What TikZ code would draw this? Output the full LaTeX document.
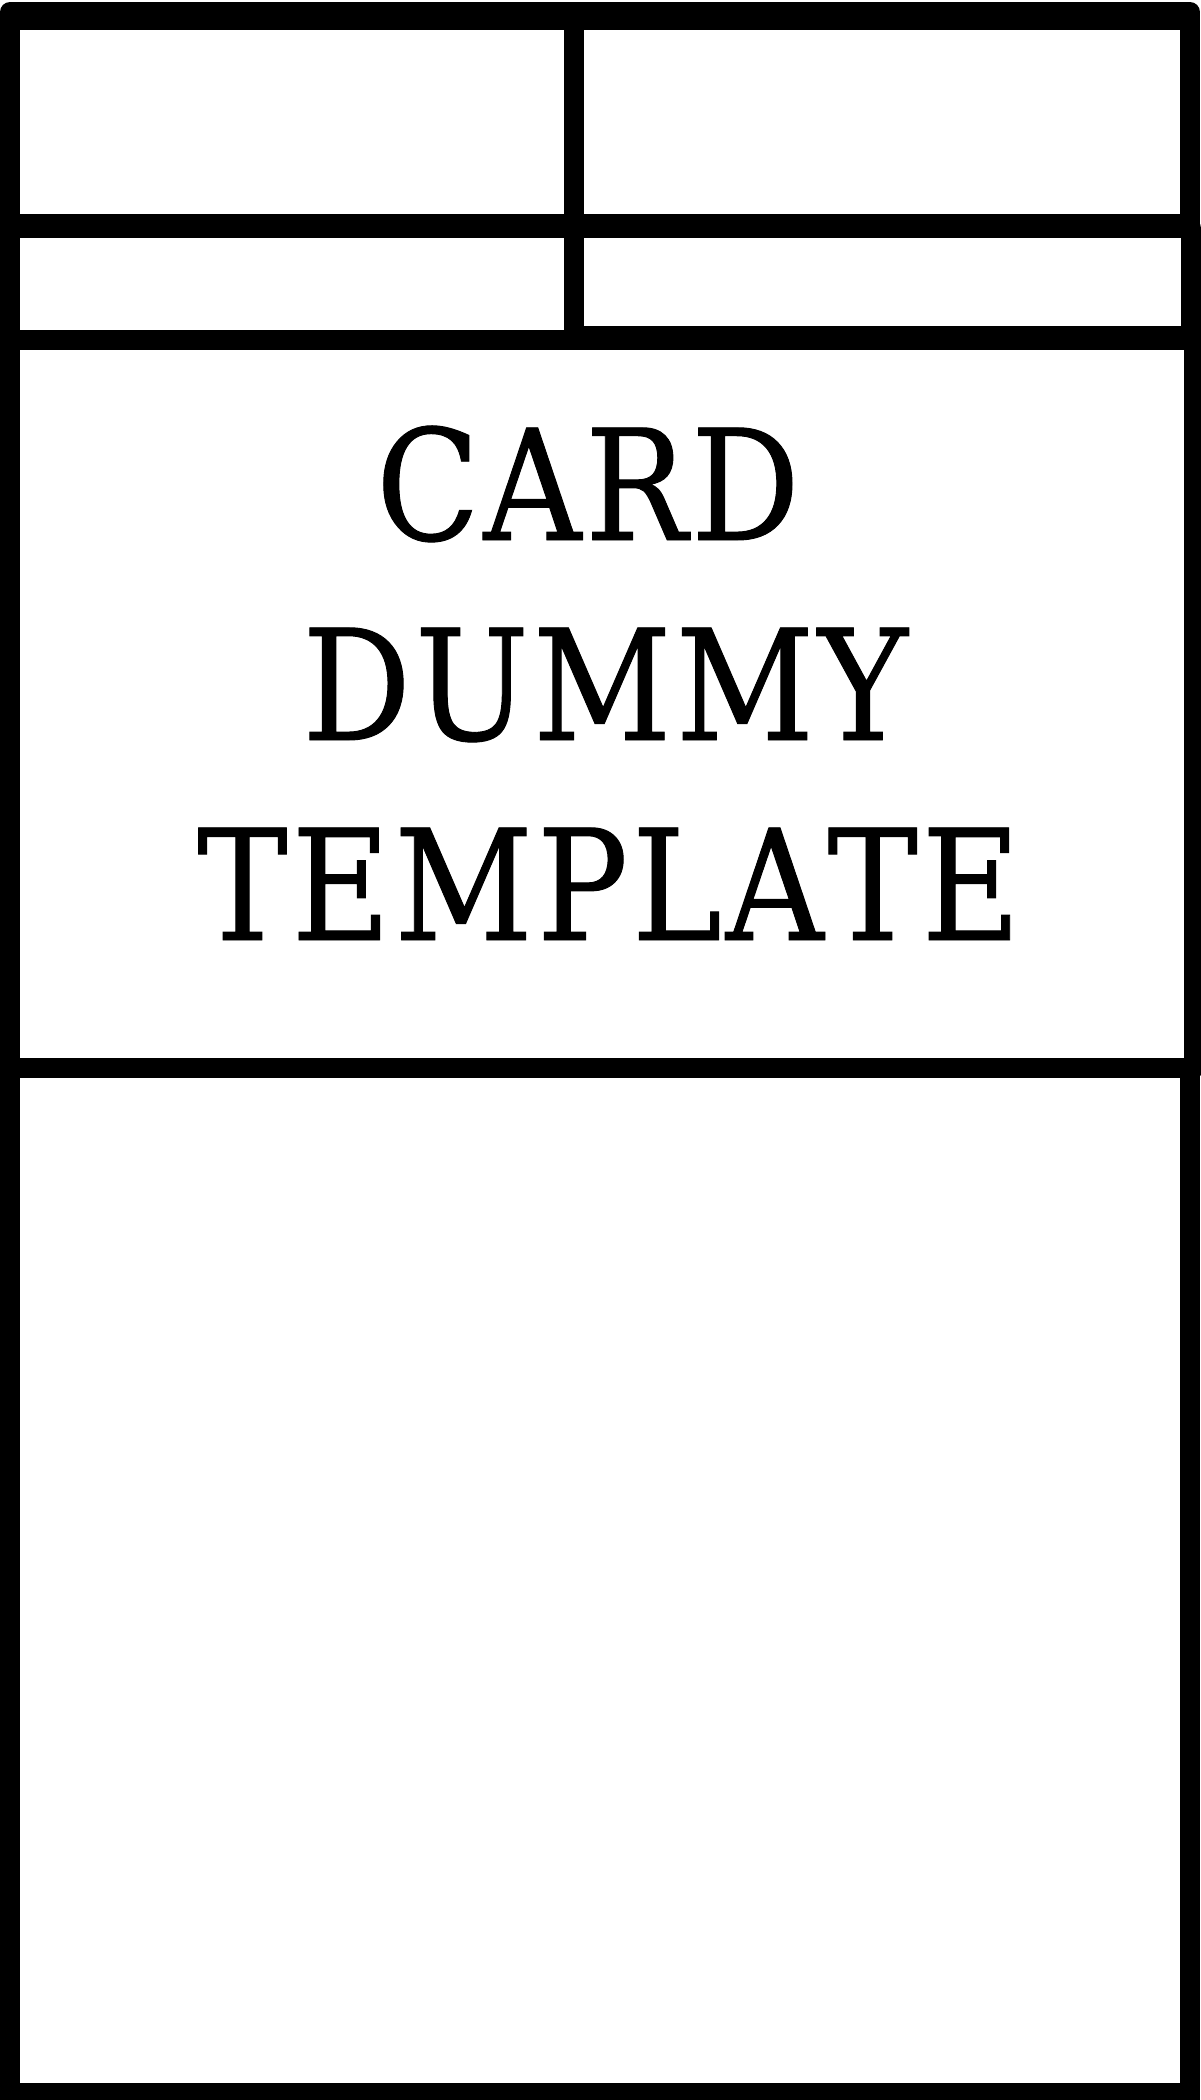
\documentclass[tikz,border=0pt]{standalone}
\usepackage{fontspec}
\newfontfamily\cardfont[FakeStretch=0.88,LetterSpace=2.5,Kerning=Off,FakeBold=0.6]{DejaVu Serif}
\begin{document}
\begin{tikzpicture}[x=1pt,y=-1pt,
  cell/.style={draw=black, fill=white, line width=20pt, line join=round},
  squarecell/.style={draw=black, fill=white, line width=20pt, line join=miter},
  frame/.style={draw=black, line width=20pt, line join=round},
  title/.style={anchor=base, inner sep=0pt, font=\cardfont\fontsize{154}{180}\selectfont}]
\useasboundingbox (0,0) rectangle (1200,2100);
\fill[white] (0,0) rectangle (1200,2100);
% outer frame (rounded top corners)
\draw[frame] (10,2093) -- (10,12) -- (1190,12) -- (1190,2093);
% top row
\draw[cell] (10,20) rectangle (574,224);
\draw[cell] (574,20) rectangle (1190,224);
% second row
\draw[cell] (10,228) rectangle (574,340);
\draw[cell] (574,228) rectangle (1191,336);
% title section
\draw[cell] (10,340) rectangle (1194,1068);
% bottom section
\draw[squarecell] (10,1068) rectangle (1190,2093);
% title text
\node[title] (l1) at (588,540) {CARD};
\node[title] (l2) at (605,740) {DUMMY};
\node[title] (l3) at (609,940) {TEMPLATE};
\end{tikzpicture}
\end{document}
